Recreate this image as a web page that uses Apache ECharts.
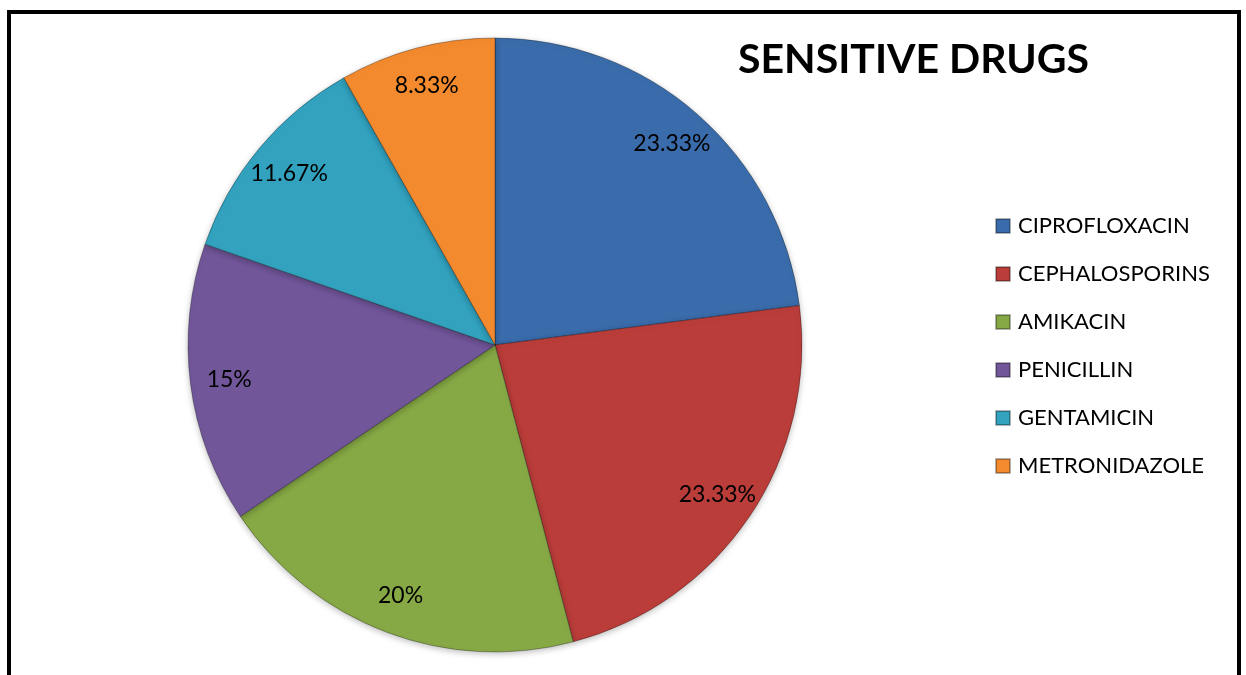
<!DOCTYPE html>
<html>
<head>
<meta charset="utf-8">
<script src="https://cdn.jsdelivr.net/npm/echarts@6/dist/echarts.min.js"></script>
<style>html,body{margin:0;padding:0;background:#fff;}#c{width:1246px;height:675px;}</style>
</head>
<body>
<div id="c"></div>
<script>
const categories = ['CIPROFLOXACIN','CEPHALOSPORINS','AMIKACIN','PENICILLIN','GENTAMICIN','METRONIDAZOLE'];
const values = [23.33, 23.33, 20, 15, 11.67, 8.33];
const colors = ['#3A6CAB','#BA3D3A','#86A845','#71569A','#32A2BF','#F38A2E'];

const FONT = 'Lato, "Open Sans", sans-serif';
const chart = echarts.init(document.getElementById('c'), null, {renderer:'canvas'});

chart.setOption({
  backgroundColor:'#fff',
  animation:false,
  title:{text:'SENSITIVE DRUGS',left:733,top:34,
    textStyle:{fontFamily:FONT,fontWeight:'bold',fontSize:41,color:'#000'}},
  legend:{orient:'vertical',left:995,top:215,padding:0,itemWidth:14,itemHeight:14,itemGap:26,
    icon:'rect',
    data:categories.map((n,i)=>({name:n,itemStyle:{color:colors[i]}})),
    textStyle:{fontFamily:FONT,fontSize:22,color:'#000',padding:[0,0,0,3]}},
  graphic:[{type:'rect',shape:{x:9,y:12,width:1230,height:700},
    style:{fill:'none',stroke:'#000',lineWidth:4},z:100}],
  series:[
    {type:'pie',center:[495,345],radius:[0,307],startAngle:90,clockwise:true,
     label:{show:false},labelLine:{show:false},
     itemStyle:{borderColor:'rgba(0,0,0,0.3)',borderWidth:1,
       shadowBlur:6,shadowColor:'rgba(0,0,0,0.25)',shadowOffsetY:2},
     emphasis:{disabled:true},
     data:categories.map((n,i)=>({name:n,value:values[i],itemStyle:{color:colors[i]}}))},
    {type:'pie',center:[495,345],radius:[223,307],startAngle:90,clockwise:true,
     silent:true,legendHoverLink:false,
     itemStyle:{color:'rgba(0,0,0,0)'},
     label:{show:true,position:'inside',fontFamily:FONT,fontSize:23,color:'#000',
       formatter:p=>p.value+'%'},
     labelLine:{show:false},
     emphasis:{disabled:true},
     data:categories.map((n,i)=>({name:n+' ',value:values[i]}))}
  ]
});
</script>
</body>
</html>
